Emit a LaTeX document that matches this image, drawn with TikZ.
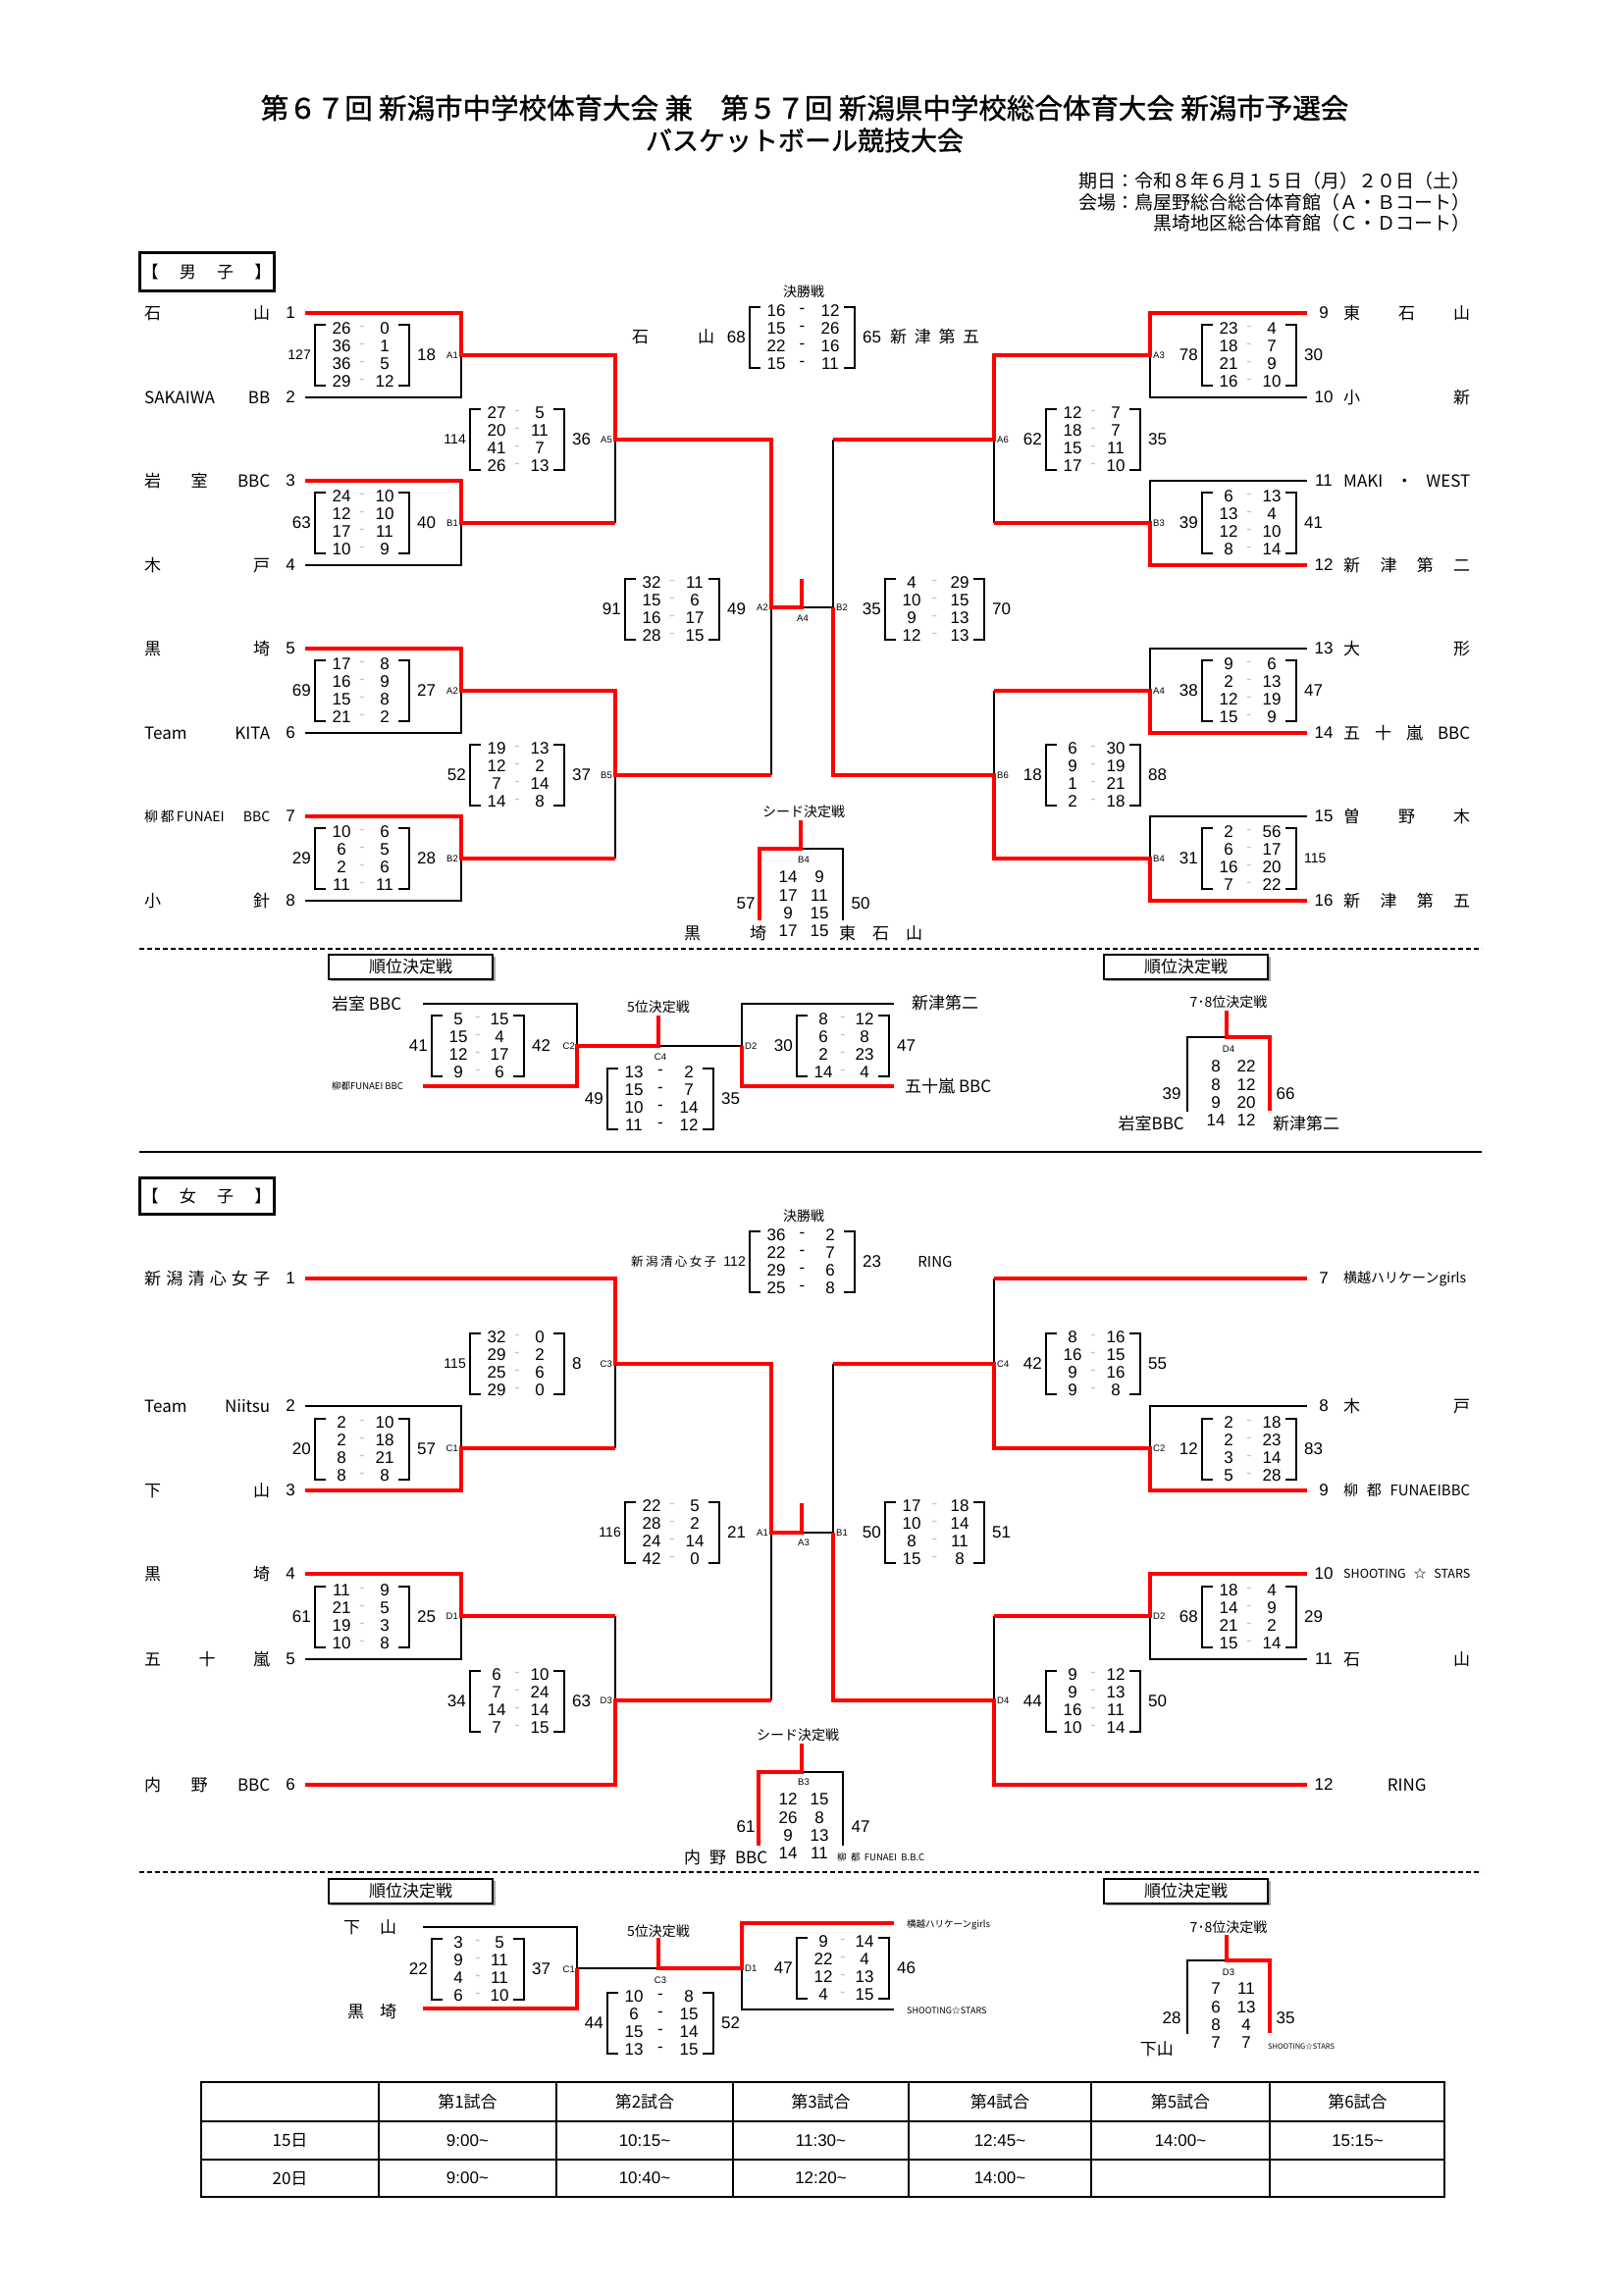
\documentclass[tikz,border=0pt]{standalone}
\usepackage{fontspec}
\setmainfont{Noto Sans CJK JP}
\newfontfamily\lib{Liberation Sans}
\tikzset{
  winline/.style={red, line width=4pt},
  thinline/.style={black, line width=1.3pt},
  brk/.style={line width=1.3pt},
  score/.style={font=\lib\fontsize{17}{17}\selectfont, inner sep=0pt},
  mlabel/.style={font=\lib\fontsize{9.5}{9.5}\selectfont, inner sep=0pt},
  teamname/.style={font=\fontsize{17}{17}\selectfont, inner sep=0pt, anchor=west},
  teamnum/.style={font=\lib\fontsize{17}{17}\selectfont, inner sep=0pt},
  caption/.style={font=\fontsize{14}{14}\selectfont, inner sep=0pt},
  jtext/.style={font=\fontsize{17}{17}\selectfont, inner sep=0pt},
}
\newcommand{\tri}[1]{{\fontsize{14}{14}\selectfont #1}}
% score box: [dash colour]{name}{x left}{x right}{y centre}{scores}{left total}{right total}
\newcommand{\scorebox}[8][gray!45]{%
  \draw[brk] ({#3+11},{#5-31}) -| ({#3},{#5+31}) -- ({#3+11},{#5+31});
  \draw[brk] ({#4-11},{#5-31}) -| ({#4},{#5+31}) -- ({#4-11},{#5+31});
  \foreach \sa/\sb [count=\i] in {#6} {
    \node[score] (#2a\i) at ({#3+27},{#5+18*\i-45}) {\sa};
    \node[score, text=#1] (#2d\i) at ({(#3+#4)/2},{#5+18*\i-45}) {-};
    \node[score] (#2b\i) at ({#4-25},{#5+18*\i-45}) {\sb};
  }
  \node[score, anchor=east] (#2l) at ({#3-4},#5) {#7};
  \node[score, anchor=west] (#2r) at ({#4+8},#5) {#8};
}
% two bare score columns
\newcommand{\scorecol}[5]{%
  \foreach \sa/\sb [count=\i] in {#5} {
    \node[score] (#1a\i) at (#2,{#4+18.3*(\i-1)}) {\sa};
    \node[score] (#1b\i) at (#3,{#4+18.3*(\i-1)}) {\sb};
  }}
\newcommand{\teamL}[4]{%
  \node[teamnum] (#1n) at (296,#2) {#3};
  \node[teamname] (#1) at (147,#2) {\hbox to 128pt{#4}};}
\newcommand{\teamR}[4]{%
  \node[teamnum] (#1n) at (1349,#2) {#3};
  \node[teamname] (#1) at (1369,#2) {\hbox to 129pt{#4}};}
\newcommand{\mlab}[5]{\node[mlabel, anchor=#4] (#1) at (#2,#3) {#5};}
\newcommand{\rankbox}[3]{%
  \draw[line width=2pt, gray!70] ({#2+2},{#3+26}) -- ({#2+169},{#3+26}) -- ({#2+169},{#3+2});
  \draw[line width=1.2pt, fill=white] (#2,#3) rectangle ({#2+167},{#3+25});
  \node[jtext] (#1) at ({#2+83.5},{#3+12.5}) {順位決定戦};}

\begin{document}
\begin{tikzpicture}[x=1pt, y=-1pt]
\useasboundingbox[fill=white] (0,0) rectangle (1654,2339);

% ---------- title
\node[font=\fontsize{28.5}{28.5}\selectfont\addfontfeature{FakeBold=1.2}, inner sep=0pt] (title1) at (820,110) {第６７回 新潟市中学校体育大会 兼　第５７回 新潟県中学校総合体育大会 新潟市予選会};
\node[font=\fontsize{27}{27}\selectfont\addfontfeature{FakeBold=1.2}, inner sep=0pt] (title2) at (820,143) {バスケットボール競技大会};
\node[font=\fontsize{19}{19}\selectfont, inner sep=0pt, anchor=east] (date) at (1499,184) {期日：令和８年６月１５日（月）２０日（土）};
\node[font=\fontsize{19}{19}\selectfont, inner sep=0pt, anchor=east] (hall1) at (1499,206) {会場：鳥屋野総合総合体育館（Ａ・Ｂコート）};
\node[font=\fontsize{19}{19}\selectfont, inner sep=0pt, anchor=east] (hall2) at (1499,227) {黒埼地区総合体育館（Ｃ・Ｄコート）};

% ================= boys
\draw[line width=3pt] (142,257) rectangle (279,296);
\node[jtext] (boyshead) at (210.5,277) {\hbox to 132pt{【\hfill 男\hfill 子\hfill 】}};

\foreach \i/\yy in {1/319,2/405,3/490,4/576,5/661,6/747,7/832,8/918} \coordinate (bL\i) at (311,\yy);
\foreach \i/\yy in {9/319,10/405,11/490,12/576,13/661,14/747,15/832,16/918} \coordinate (bR\i) at (1332,\yy);
\coordinate (bA1) at (470,362);  \coordinate (bB1) at (470,533);
\coordinate (bA2) at (470,704);  \coordinate (bB2) at (470,875);
\coordinate (bA5) at (627,448);  \coordinate (bB5) at (627,790);
\coordinate (bA3) at (1172,362); \coordinate (bB3) at (1172,533);
\coordinate (bA4) at (1172,704); \coordinate (bB4) at (1172,875);
\coordinate (bA6) at (1013,448); \coordinate (bB6) at (1013,790);
\coordinate (bSL) at (786,619);  \coordinate (bSR) at (849,619);
\coordinate (bC) at (817,619);   \coordinate (bCt) at (817,590);

\teamL{bt1}{319}{1}{石\hfill 山}
\teamL{bt2}{405}{2}{SAKAIWA\hfill BB}
\teamL{bt3}{490}{3}{岩\hfill 室\hfill BBC}
\teamL{bt4}{576}{4}{木\hfill 戸}
\teamL{bt5}{661}{5}{黒\hfill 埼}
\teamL{bt6}{747}{6}{Team\hfill KITA}
\teamL{bt7}{832}{7}{{\fontsize{14}{14}\selectfont 柳\,都\,FUNAEI\hfill BBC}}
\teamL{bt8}{918}{8}{小\hfill 針}
\teamR{bt9}{319}{9}{東\hfill 石\hfill 山}
\teamR{bt10}{405}{10}{小\hfill 新}
\teamR{bt11}{490}{11}{MAKI\hfill ・\hfill WEST}
\teamR{bt12}{576}{12}{新\hfill 津\hfill 第\hfill 二}
\teamR{bt13}{661}{13}{大\hfill 形}
\teamR{bt14}{747}{14}{五\hfill 十\hfill 嵐\hfill BBC}
\teamR{bt15}{832}{15}{曽\hfill 野\hfill 木}
\teamR{bt16}{918}{16}{新\hfill 津\hfill 第\hfill 五}

% losing lines
\draw[thinline] (bL2) -| (bA1);
\draw[thinline] (bL4) -| (bB1);
\draw[thinline] (bB1 -| bA5) -- (bA5);
\draw[thinline] (bL6) -| (bA2);
\draw[thinline] (bL8) -| (bB2);
\draw[thinline] (bB2 -| bB5) -- (bB5);
\draw[thinline] (bB5 -| bSL) -- (bSL);
\draw[thinline] (bC) -- (bSR);
\draw[thinline] (bR10) -| (bA3);
\draw[thinline] (bR11) -| (bB3);
\draw[thinline] (bB3 -| bA6) -- (bA6);
\draw[thinline] (bR13) -| (bA4);
\draw[thinline] (bA4 -| bB6) -- (bB6);
\draw[thinline] (bR15) -| (bB4);
\draw[thinline] (bA6 -| bSR) -- (bSR);
% winning lines
\draw[winline] (bL1) -| (bA1) -| (bA5) -| (bSL) -| (bCt);
\draw[winline] (bL3) -| (bB1) -- (bB1 -| bA5);
\draw[winline] (bL5) -| (bA2) -| (bB5) -- (bB5 -| bSL);
\draw[winline] (bL7) -| (bB2) -- (bB2 -| bB5);
\draw[winline] (bR9) -| (bA3) -| (bA6) -- (bA6 -| bSR);
\draw[winline] (bR12) -| (bB3) -- (bB3 -| bA6);
\draw[winline] (bR14) -| (bA4) -- (bA4 -| bB6);
\draw[winline] (bR16) -| (bB4) -| (bB6) -| (bSR);

\scorebox{bxA1}{321}{417}{362}{26/0,36/1,36/5,29/12}{\tri{127}}{18}
\scorebox{bxB1}{321}{417}{533}{24/10,12/10,17/11,10/9}{63}{40}
\scorebox{bxA2}{321}{417}{704}{17/8,16/9,15/8,21/2}{69}{27}
\scorebox{bxB2}{321}{417}{875}{10/6,6/5,2/6,11/11}{29}{28}
\scorebox{bxA5}{479}{575}{448}{27/5,20/11,41/7,26/13}{\tri{114}}{36}
\scorebox{bxB5}{479}{575}{790}{19/13,12/2,7/14,14/8}{52}{37}
\scorebox{bxSL}{637}{733}{621}{32/11,15/6,16/17,28/15}{91}{49}
\scorebox{bxSR}{902}{1003}{621}{4/29,10/15,9/13,12/13}{35}{70}
\scorebox{bxA3}{1225}{1321}{362}{23/4,18/7,21/9,16/10}{78}{30}
\scorebox{bxB3}{1225}{1321}{533}{6/13,13/4,12/10,8/14}{39}{41}
\scorebox{bxA4}{1225}{1321}{704}{9/6,2/13,12/19,15/9}{38}{47}
\scorebox{bxB4}{1225}{1321}{875}{2/56,6/17,16/20,7/22}{31}{\tri{115}}
\scorebox{bxA6}{1066}{1162}{448}{12/7,18/7,15/11,17/10}{62}{35}
\scorebox{bxB6}{1066}{1162}{790}{6/30,9/19,1/21,2/18}{18}{88}
\scorebox[black]{bxF}{764}{871}{344}{16/12,15/26,22/16,15/11}{68}{65}

\mlab{bmA1}{467}{362}{east}{A1} \mlab{bmB1}{467}{533}{east}{B1}
\mlab{bmA2}{467}{704}{east}{A2} \mlab{bmB2}{467}{875}{east}{B2}
\mlab{bmA5}{624}{448}{east}{A5} \mlab{bmB5}{624}{790}{east}{B5}
\mlab{bmSL}{783}{619}{east}{A2} \mlab{bmSR}{852}{619}{west}{B2}
\mlab{bmC}{818}{630}{center}{A4}
\mlab{bmA3}{1175}{362}{west}{A3} \mlab{bmB3}{1175}{533}{west}{B3}
\mlab{bmA4}{1175}{704}{west}{A4} \mlab{bmB4}{1175}{875}{west}{B4}
\mlab{bmA6}{1016}{448}{west}{A6} \mlab{bmB6}{1016}{790}{west}{B6}

% final
\node[caption] (bFcap) at (819,297) {決勝戦};
\node[teamname] (bFl) at (644,343) {\hbox to 84pt{石\hfill 山}};
\node[teamname] (bFr) at (907,343) {\hbox to 91pt{新\hfill 津\hfill 第\hfill 五}};

% seed decider
\node[caption] (bSdcap) at (819,827) {シード決定戦};
\coordinate (bSdT) at (816,836); \coordinate (bSd) at (816,865);
\coordinate (bSdL) at (774,938); \coordinate (bSdR) at (859,938);
\draw[thinline] (bSd) -| (bSdR);
\draw[winline] (bSdT) -- (bSd) -| (bSdL);
\mlab{bmSd}{819}{876}{center}{B4}
\scorecol{bxSd}{803}{835}{894}{14/9,17/11,9/15,17/15}
\node[score] (bSdl) at (760,921) {57};
\node[score] (bSdr) at (877,921) {50};
\node[teamname] (bSdn1) at (697,951) {\hbox to 84pt{黒\hfill 埼}};
\node[teamname] (bSdn2) at (855,951) {\hbox to 85pt{東\hfill 石\hfill 山}};

\draw[thinline, dash pattern=on 5pt off 3pt] (142,967) -- (1510,967);

% ---------- boys placement
\rankbox{brk1}{335}{973}
\rankbox{brk2}{1125}{973}
\coordinate (pC2a) at (431,1023); \coordinate (pC2b) at (431,1107);
\coordinate (pC2) at (588,1066);  \coordinate (pC4) at (671,1066);
\coordinate (pC4t) at (671,1035); \coordinate (pD2) at (756,1066);
\coordinate (pD2a) at (911,1023); \coordinate (pD2b) at (911,1107);
\draw[thinline] (pC2a) -| (pC2);
\draw[thinline] (pC4) -- (pD2);
\draw[thinline] (pD2a) -| (pD2);
\draw[winline] (pC2b) -| (pC2) -- (pC4) -- (pC4t);
\draw[winline] (pD2b) -| (pD2);
\node[jtext, anchor=west] (pn1) at (338,1023) {岩室 BBC};
\node[jtext, anchor=west, font=\fontsize{9.5}{9.5}\selectfont] (pn2) at (338,1107) {柳都FUNAEI BBC};
\node[jtext, anchor=west] (pn3) at (929,1022) {新津第二};
\node[jtext, anchor=west] (pn4) at (922,1107) {五十嵐 BBC};
\node[caption] (p5cap) at (671,1026) {5位決定戦};
\scorebox{pxC2}{440}{534}{1066}{5/15,15/4,12/17,9/6}{41}{42}
\scorebox{pxD2}{812}{906}{1066}{8/12,6/8,2/23,14/4}{30}{47}
\scorebox[black]{pxC4}{619}{727}{1120}{13/2,15/7,10/14,11/12}{49}{35}
\mlab{pmC2}{586}{1066}{east}{C2} \mlab{pmD2}{759}{1066}{west}{D2}
\mlab{pmC4}{673}{1077}{center}{C4}

\node[caption] (p78cap) at (1252,1021) {7･8位決定戦};
\coordinate (p78t) at (1250,1030); \coordinate (p78) at (1250,1057);
\coordinate (p78R) at (1294,1132); \coordinate (p78L) at (1210,1133);
\draw[thinline] (p78) -| (p78L);
\draw[winline] (p78t) -- (p78) -| (p78R);
\mlab{pmD4}{1252}{1069}{center}{D4}
\scorecol{pxD4}{1239}{1270}{1087}{8/22,8/12,9/20,14/12}
\node[score] (p78l) at (1194,1115) {39};
\node[score] (p78r) at (1310,1115) {66};
\node[jtext, anchor=east] (p78n1) at (1207,1145) {岩室BBC};
\node[jtext, anchor=west] (p78n2) at (1297,1145) {新津第二};

\draw[line width=2pt] (142,1174) -- (1510,1174);

% ================= girls
\draw[line width=3pt] (142,1200) rectangle (279,1237);
\node[jtext] (girlshead) at (210.5,1219) {\hbox to 132pt{【\hfill 女\hfill 子\hfill 】}};

\foreach \i/\yy in {1/1303,2/1433,3/1519,4/1604,5/1691,6/1819} \coordinate (gL\i) at (311,\yy);
\foreach \i/\yy in {7/1303,8/1433,9/1519,10/1604,11/1691,12/1819} \coordinate (gR\i) at (1332,\yy);
\coordinate (gC1) at (470,1476);  \coordinate (gD1) at (470,1647);
\coordinate (gC3) at (627,1390);  \coordinate (gD3) at (627,1733);
\coordinate (gC2) at (1172,1476); \coordinate (gD2) at (1172,1647);
\coordinate (gC4) at (1013,1390); \coordinate (gD4) at (1013,1733);
\coordinate (gSL) at (786,1562);  \coordinate (gSR) at (849,1562);
\coordinate (gC) at (817,1562);   \coordinate (gCt) at (817,1532);

\teamL{gt1}{1303}{1}{新\hfill 潟\hfill 清\hfill 心\hfill 女\hfill 子}
\teamL{gt2}{1433}{2}{Team\hfill Niitsu}
\teamL{gt3}{1519}{3}{下\hfill 山}
\teamL{gt4}{1604}{4}{黒\hfill 埼}
\teamL{gt5}{1691}{5}{五\hfill 十\hfill 嵐}
\teamL{gt6}{1819}{6}{内\hfill 野\hfill BBC}
\teamR{gt7}{1303}{7}{{\fontsize{14}{14}\selectfont 横越ハリケーンgirls\hfill}}
\teamR{gt8}{1433}{8}{木\hfill 戸}
\teamR{gt9}{1519}{9}{{\fontsize{15}{15}\selectfont 柳\hfill 都\hfill FUNAEIBBC}}
\teamR{gt10}{1604}{10}{{\fontsize{12.5}{12.5}\selectfont SHOOTING\hfill ☆\hfill STARS}}
\teamR{gt11}{1691}{11}{石\hfill 山}
\teamR{gt12}{1819}{12}{\hfill RING\hfill}

% losing lines
\draw[thinline] (gL2) -| (gC1);
\draw[thinline] (gC1 -| gC3) -- (gC3);
\draw[thinline] (gL5) -| (gD1);
\draw[thinline] (gD1 -| gD3) -- (gD3);
\draw[thinline] (gD3 -| gSL) -- (gSL);
\draw[thinline] (gC) -- (gSR);
\draw[thinline] (gR7 -| gC4) -- (gC4);
\draw[thinline] (gR8) -| (gC2);
\draw[thinline] (gR11) -| (gD2);
\draw[thinline] (gD2 -| gD4) -- (gD4);
\draw[thinline] (gC4 -| gSR) -- (gSR);
% winning lines
\draw[winline] (gL1) -| (gC3) -| (gSL) -| (gCt);
\draw[winline] (gL3) -| (gC1) -- (gC1 -| gC3);
\draw[winline] (gL4) -| (gD1) -- (gD1 -| gD3);
\draw[winline] (gL6) -| (gD3) -- (gD3 -| gSL);
\draw[winline] (gR7) -- (gR7 -| gC4);
\draw[winline] (gR9) -| (gC2) -| (gC4) -- (gC4 -| gSR);
\draw[winline] (gR10) -| (gD2) -- (gD2 -| gD4);
\draw[winline] (gR12) -| (gD4) -| (gSR);

\scorebox{gxC1}{321}{417}{1477}{2/10,2/18,8/21,8/8}{20}{57}
\scorebox{gxD1}{321}{417}{1648}{11/9,21/5,19/3,10/8}{61}{25}
\scorebox{gxC3}{479}{575}{1390}{32/0,29/2,25/6,29/0}{\tri{115}}{8}
\scorebox{gxD3}{479}{575}{1734}{6/10,7/24,14/14,7/15}{34}{63}
\scorebox{gxSL}{637}{733}{1562}{22/5,28/2,24/14,42/0}{\tri{116}}{21}
\scorebox{gxSR}{902}{1003}{1562}{17/18,10/14,8/11,15/8}{50}{51}
\scorebox{gxC4}{1066}{1162}{1390}{8/16,16/15,9/16,9/8}{42}{55}
\scorebox{gxC2}{1225}{1321}{1477}{2/18,2/23,3/14,5/28}{12}{83}
\scorebox{gxD2}{1225}{1321}{1648}{18/4,14/9,21/2,15/14}{68}{29}
\scorebox{gxD4}{1066}{1162}{1734}{9/12,9/13,16/11,10/14}{44}{50}
\scorebox[black]{gxF}{764}{871}{1286}{36/2,22/7,29/6,25/8}{\tri{112}}{23}

\mlab{gmC1}{467}{1476}{east}{C1} \mlab{gmD1}{467}{1647}{east}{D1}
\mlab{gmC3}{624}{1390}{east}{C3} \mlab{gmD3}{624}{1733}{east}{D3}
\mlab{gmSL}{783}{1562}{east}{A1} \mlab{gmSR}{852}{1562}{west}{B1}
\mlab{gmC}{819}{1572}{center}{A3}
\mlab{gmC2}{1175}{1476}{west}{C2} \mlab{gmD2}{1175}{1647}{west}{D2}
\mlab{gmC4}{1016}{1390}{west}{C4} \mlab{gmD4}{1016}{1733}{west}{D4}

% final
\node[caption] (gFcap) at (819,1239) {決勝戦};
\node[teamname, font=\fontsize{12.5}{12.5}\selectfont] (gFl) at (643,1286) {\hbox to 87pt{新\hfill 潟\hfill 清\hfill 心\hfill 女\hfill 子}};
\node[teamname, anchor=center, font=\fontsize{15}{15}\selectfont] (gFr) at (953,1286) {RING};

% seed decider
\node[caption] (gSdcap) at (813,1768) {シード決定戦};
\coordinate (gSdT) at (817,1777); \coordinate (gSd) at (817,1806);
\coordinate (gSdL) at (773,1881); \coordinate (gSdR) at (859,1881);
\draw[thinline] (gSd) -| (gSdR);
\draw[winline] (gSdT) -- (gSd) -| (gSdL);
\mlab{gmSd}{819}{1816}{center}{B3}
\scorecol{gxSd}{803}{835}{1834}{12/15,26/8,9/13,14/11}
\node[score] (gSdl) at (760,1862) {61};
\node[score] (gSdr) at (877,1862) {47};
\node[teamname] (gSdn1) at (697,1893) {\hbox to 85pt{内\hfill 野\hfill BBC}};
\node[teamname, font=\fontsize{9.5}{9.5}\selectfont] (gSdn2) at (853,1893) {\hbox to 89pt{柳\hfill 都\hfill FUNAEI\hfill B.B.C}};

\draw[thinline, dash pattern=on 5pt off 3pt] (142,1908) -- (1510,1908);

% ---------- girls placement
\rankbox{grk1}{335}{1915}
\rankbox{grk2}{1125}{1915}
\coordinate (qC1a) at (431,1964); \coordinate (qC1b) at (431,2047);
\coordinate (qC1) at (588,2006);  \coordinate (qC3) at (671,2006);
\coordinate (qC3t) at (671,1975); \coordinate (qD1) at (756,2006);
\coordinate (qD1a) at (911,1960); \coordinate (qD1b) at (911,2048);
\draw[thinline] (qC1a) -| (qC1);
\draw[thinline] (qC1) -- (qC3);
\draw[thinline] (qD1b) -| (qD1);
\draw[winline] (qC1b) -| (qC1);
\draw[winline] (qC3t) -- (qC3) -- (qD1) |- (qD1a);
\node[jtext, anchor=west] (qn1) at (350,1964) {\hbox to 54pt{下\hfill 山}};
\node[jtext, anchor=west] (qn2) at (354,2050) {\hbox to 50pt{黒\hfill 埼}};
\node[jtext, anchor=west, font=\fontsize{9.5}{9.5}\selectfont] (qn3) at (924,1962) {横越ハリケーンgirls};
\node[jtext, anchor=west, font=\fontsize{9}{9}\selectfont] (qn4) at (924,2049) {SHOOTING☆STARS};
\node[caption] (q5cap) at (671,1968) {5位決定戦};
\scorebox{qxC1}{440}{534}{2007}{3/5,9/11,4/11,6/10}{22}{37}
\scorebox{qxD1}{812}{906}{2006}{9/14,22/4,12/13,4/15}{47}{46}
\scorebox[black]{qxC3}{619}{727}{2062}{10/8,6/15,15/14,13/15}{44}{52}
\mlab{qmC1}{586}{2007}{east}{C1} \mlab{qmD1}{759}{2006}{west}{D1}
\mlab{qmC3}{673}{2018}{center}{C3}

\node[caption] (q78cap) at (1252,1964) {7･8位決定戦};
\coordinate (q78t) at (1250,1972); \coordinate (q78) at (1250,1998);
\coordinate (q78R) at (1294,2072); \coordinate (q78L) at (1210,2073);
\draw[thinline] (q78) -| (q78L);
\draw[winline] (q78t) -- (q78) -| (q78R);
\mlab{qmD3}{1252}{2010}{center}{D3}
\scorecol{qxD3}{1239}{1270}{2027}{7/11,6/13,8/4,7/7}
\node[score] (q78l) at (1194,2057) {28};
\node[score] (q78r) at (1310,2057) {35};
\node[jtext, anchor=east] (q78n1) at (1196,2088) {下山};
\node[jtext, anchor=west, font=\fontsize{7.5}{7.5}\selectfont] (q78n2) at (1292,2086) {SHOOTING☆STARS};

% ---------- time table
\draw[line width=2.5pt] (205,2122) rectangle (1472,2239);
\draw[line width=2pt] (205,2162) -- (1472,2162) (205,2201) -- (1472,2201);
\foreach \cx in {386,567,747,926,1112,1294} \draw[line width=1.2pt] (\cx,2122) -- (\cx,2239);
\foreach \cx/\hd [count=\k] in {476.5/1,657/2,836.5/3,1019/4,1203/5,1383.5/6}
  \node[jtext] (th\k) at (\cx,2142) {第\hd 試合};
\node[jtext] (day1) at (295.5,2181.5) {15日};
\node[jtext] (day2) at (295.5,2220) {20日};
\foreach \cx/\tm [count=\k] in {476.5/9:00,657/10:15,836.5/11:30,1019/12:45,1203/14:00,1383.5/15:15}
  \node[score] (ta\k) at (\cx,2181.5) {\tm\textasciitilde};
\foreach \cx/\tm [count=\k] in {476.5/9:00,657/10:40,836.5/12:20,1019/14:00}
  \node[score] (tb\k) at (\cx,2220) {\tm\textasciitilde};
\end{tikzpicture}
\end{document}
